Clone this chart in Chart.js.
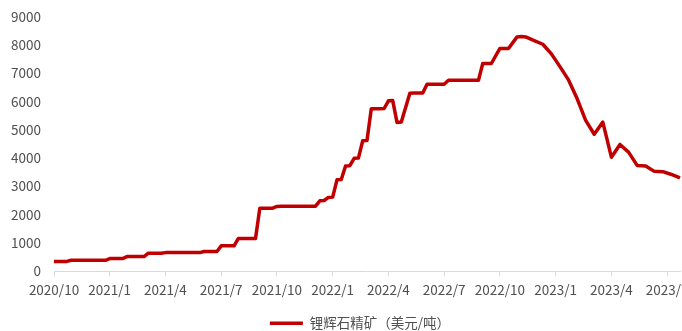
<!DOCTYPE html>
<html lang="zh-CN">
<head>
<meta charset="utf-8">
<title>锂辉石精矿价格</title>
<script src="https://cdn.jsdelivr.net/npm/chart.js@4.4.1/dist/chart.umd.min.js"></script>
<style>
  html, body { margin: 0; padding: 0; background: #ffffff; overflow: hidden; }
  #wrap { position: relative; width: 682px; height: 331px; }
</style>
</head>
<body>
<div id="wrap"><canvas id="chart"></canvas></div>
<script>
// Weekly series, first week of 2020/10 through mid 2023/7 (147 weeks).
const seriesName = '锂辉石精矿（美元/吨）';

// Quarter labels shown on the x axis, one every 13 weeks.
const tickLabels = ['2020/10', '2021/1', '2021/4', '2021/7', '2021/10', '2022/1',
                    '2022/4', '2022/7', '2022/10', '2023/1', '2023/4', '2023/7'];
const weeksPerQuarter = 13;

// Price, USD per tonne; null = no quote that week.
const prices = [
  350, 350, 350, 350,
  390, 390, 390, 390, 390, 390, 390, 390, 390,
  450, 450, 450, 450,
  520, 520, 520, 520, 520,
  640, 640, 640, 640,
  660, 660, 660, 660, 660, 660, 660, 660, 660,
  700, 700, 700, 700,
  900, 900, 900, 900,
  1160, 1160, 1160, 1160, 1160,
  2230, 2230, 2230, 2230,
  2290, 2300, 2300, 2300, 2300, 2300, 2300, 2300, 2300, 2300,
  2490, 2500, 2610, 2620,
  3230, 3240, 3720, 3730, 3990, 4000, 4610, 4620,
  5740, 5740, 5740, 5750,
  6020, 6030, 5260, 5270,
  null,
  6290, 6300, 6300, 6300,
  6610, 6610, 6610, 6610, 6610,
  6750, 6750, 6750, 6750, 6750, 6750, 6750, 6750,
  7340, 7340, 7340,
  null,
  7870, 7870, 7870,
  null,
  8280, 8290, 8280,
  null,
  8150, null, 8020, null, 7680, null, 7230, null, 6760, null,
  6100, null, 5330, null, 4840, null, 5270, null, 4030, null,
  4480, null, 4210, null, 3740, null, 3720, null, 3530, null,
  3520, null, 3420, null, 3300
];

// Weekly category labels (used for tooltips), starting 2020-10-02.
const firstWeek = new Date(2020, 9, 2);
const weeks = prices.map((_, i) => {
  const d = new Date(firstWeek.getTime() + i * 7 * 86400000);
  return d.getFullYear() + '/' + (d.getMonth() + 1) + '/' + d.getDate();
});

const textColor = '#505050';
const axisColor = '#d9d9d9';
const lineColor = '#c00000';
const fontFamily = "'Noto Sans CJK SC', 'Noto Sans', sans-serif";

// Centre the legend under the plot area rather than the whole canvas.
const legendUnderPlot = {
  id: 'legendUnderPlot',
  afterLayout(chart) {
    if (chart.legend) {
      chart.legend.left += chart.chartArea.left * 0.7;
    }
  }
};

new Chart(document.getElementById('chart'), {
  type: 'line',
  data: {
    labels: weeks,
    datasets: [{
      label: seriesName,
      data: prices,
      borderColor: lineColor,
      backgroundColor: lineColor,
      borderWidth: 3.5,
      borderJoinStyle: 'round',
      pointRadius: 0,
      pointHoverRadius: 0,
      tension: 0,
      spanGaps: true,
      fill: false
    }]
  },
  plugins: [legendUnderPlot],
  options: {
    responsive: true,
    maintainAspectRatio: false,
    animation: false,
    layout: { padding: { left: 0, right: 0, top: 0, bottom: -9 } },
    plugins: {
      tooltip: { enabled: false },
      legend: {
        position: 'bottom',
        labels: {
          color: textColor,
          font: { family: fontFamily, size: 13.5 },
          usePointStyle: true,
          pointStyle: 'line',
          pointStyleWidth: 33,
          padding: 2
        }
      }
    },
    scales: {
      x: {
        type: 'category',
        offset: false,
        border: { display: true, color: axisColor, width: 1 },
        grid: {
          display: true,
          drawOnChartArea: false,
          drawTicks: true,
          tickLength: 5,
          color: (ctx) => (ctx.index % weeksPerQuarter === 0 ? axisColor : 'rgba(0,0,0,0)')
        },
        ticks: {
          autoSkip: false,
          maxRotation: 0,
          minRotation: 0,
          padding: 5,
          color: textColor,
          font: { family: fontFamily, size: 13.5 },
          callback: (value, index) =>
            (index % weeksPerQuarter === 0 ? (tickLabels[index / weeksPerQuarter] || '') : '')
        },
        // gap below the date labels; let the last quarter label run off the edge
        afterFit: (scale) => {
          scale.height += 12;
          scale.paddingRight = 2;
        }
      },
      y: {
        min: 0,
        max: 9000,
        border: { display: false },
        grid: { display: false, drawTicks: false },
        ticks: {
          stepSize: 1000,
          padding: 13,
          color: textColor,
          font: { family: fontFamily, size: 13.5 },
          callback: (value) => String(value)
        },
        afterFit: (scale) => {
          scale.width = 54;
          scale.paddingTop = 16.5;
          scale.paddingBottom = 0;
        }
      }
    }
  }
});
</script>
</body>
</html>
